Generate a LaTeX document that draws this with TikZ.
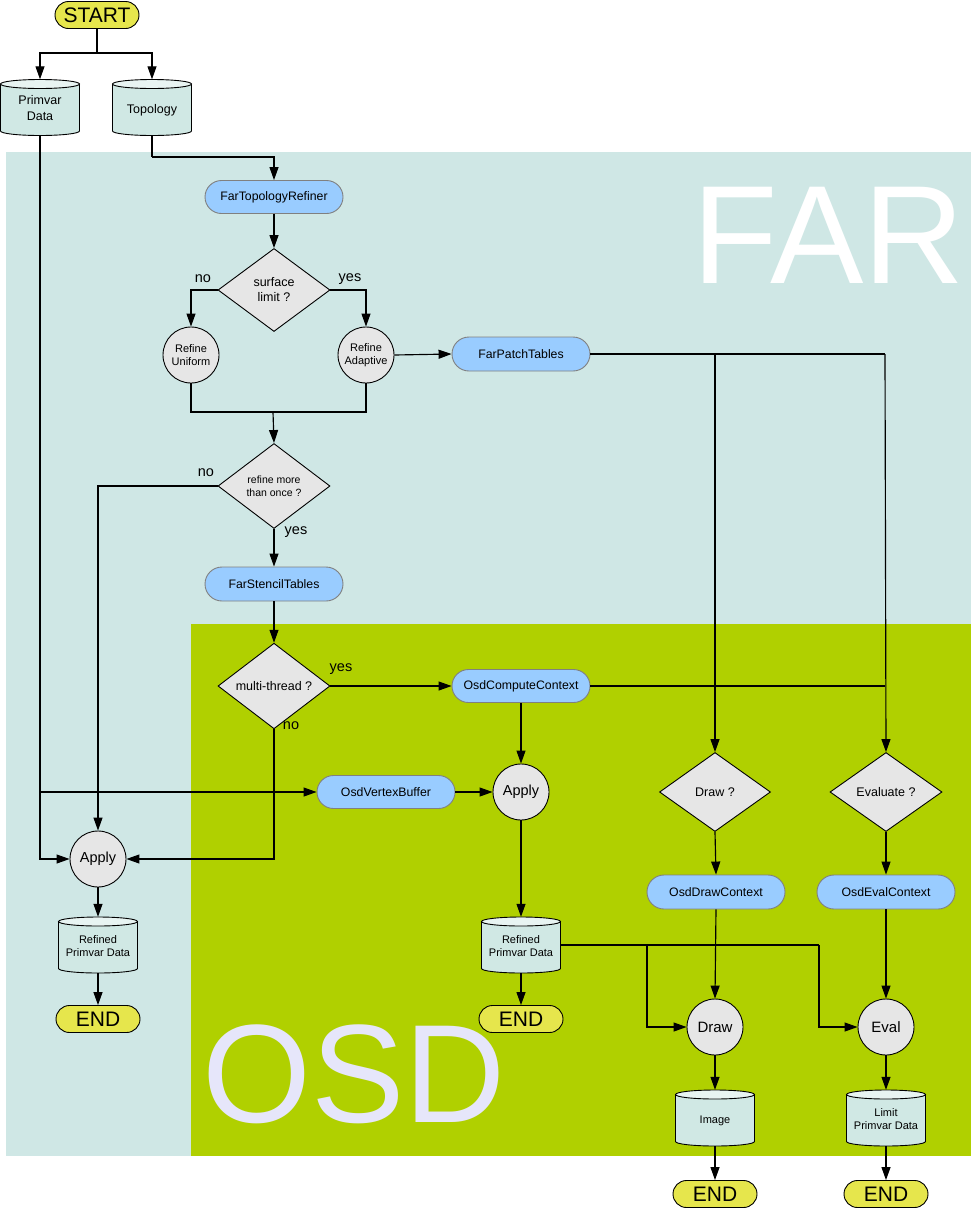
\documentclass[tikz,border=0pt]{standalone}
\usepackage{fontspec}
\setmainfont{Liberation Sans}
\usetikzlibrary{shapes.geometric,shapes.misc,arrows.meta}
\definecolor{farbg}{HTML}{CFE7E5}
\definecolor{osdbg}{HTML}{B0D000}
\definecolor{osdtxt}{HTML}{E6E6FA}
\definecolor{pillblue}{HTML}{99CCFF}
\definecolor{termy}{HTML}{E6E64C}
\definecolor{procg}{HTML}{E6E6E6}
\definecolor{cylf}{HTML}{D0E8E4}
\definecolor{cyltop}{HTML}{E8F4F2}
\tikzset{
  pill/.style={rounded rectangle, draw=gray, fill=pillblue, line width=0.9pt, minimum width=138, minimum height=33, inner sep=0, font=\fontsize{12.3}{14}\selectfont},
  term/.style={rounded rectangle, draw=black, fill=termy, line width=0.9pt, minimum width=84, minimum height=27, inner sep=0, font=\fontsize{21}{24}\selectfont},
  dec/.style={diamond, draw=black, fill=procg, line width=0.9pt, minimum width=112, minimum height=83, inner sep=0, align=center, font=\fontsize{12.5}{15}\selectfont},
  proc/.style={circle, draw=black, fill=procg, line width=0.9pt, minimum size=56, inner sep=0, align=center},
  cyltext/.style={inner sep=0, minimum width=79, minimum height=56, align=center},
  lbl/.style={font=\fontsize{14.5}{16}\selectfont, inner sep=0},
  conn/.style={line width=1.15pt, draw=black},
  arr/.style={conn, -{Triangle[length=13pt,width=9pt]}},
}
\newcommand\mycyl[6]{%
  \pgfmathsetmacro\cL{#2-39.5}\pgfmathsetmacro\cR{#2+39.5}%
  \pgfmathsetmacro\cT{#3-28+4.5}\pgfmathsetmacro\cB{#3+28}%
  \pgfmathsetmacro\cBa{#3+28-4.5}\pgfmathsetmacro\cBb{#3+28-2}%
  \pgfmathsetmacro\cXa{#2-21.8}\pgfmathsetmacro\cXb{#2+21.8}%
  \path[fill=cylf, draw=black, line width=0.9pt] (\cL,\cT) -- (\cL,\cBa) .. controls (\cL,\cBb) and (\cXa,\cB) .. (#2,\cB) .. controls (\cXb,\cB) and (\cR,\cBb) .. (\cR,\cBa) -- (\cR,\cT) -- cycle;
  \path[fill=cyltop, draw=black, line width=0.9pt] (#2,\cT) ellipse [x radius=39.5, y radius=4.5];
  \node[cyltext, font=#5] (#1) at (#2,#3) {\raisebox{-#6pt}[\height][\depth]{\begin{tabular}{@{}c@{}}#4\end{tabular}}};%
}
\begin{document}
\begin{tikzpicture}[x=1pt,y=-1pt]
\useasboundingbox (0,0) rectangle (971,1208);
% backgrounds
\fill[farbg] (6,152) rectangle (971,1156);
\fill[osdbg] (191,624) rectangle (971,1156);
\node[anchor=base west, inner sep=0, text=white, font=\fontsize{140}{144}\selectfont] (fartxt) at (692,283) {FAR};
\node[anchor=base west, inner sep=0, text=osdtxt, font=\fontsize{140}{144}\selectfont] (osdtxt) at (202,1122) {OSD};

% nodes
\node[term] (start) at (97,15) {START};
\mycyl{pd}{40}{107.5}{Primvar\\Data}{\fontsize{12.5}{16}\selectfont}{1.5}
\mycyl{topo}{152}{107.5}{Topology}{\fontsize{12.5}{16}\selectfont}{2.5}
\node[pill] (ftr) at (274,197) {FarTopologyRefiner};
\node[dec] (d1) at (274,290) {surface\\limit ?};
\node[proc, font=\fontsize{11}{13}\selectfont] (ru) at (191,355) {Refine\\Uniform};
\node[proc, font=\fontsize{11}{13}\selectfont] (ra) at (366,355) {Refine\\Adaptive};
\node[pill, minimum height=34] (fpt) at (521,354) {FarPatchTables};
\node[dec, minimum height=85, font=\fontsize{10.5}{13}\selectfont] (d2) at (274,486) {refine more\\than once ?};
\node[pill, minimum height=34] (fst) at (274,584) {FarStencilTables};
\node[dec, minimum height=78] (d3) at (274,686) {multi-thread ?};
\node[pill] (occ) at (521,686) {OsdComputeContext};
\node[pill] (ovb) at (386,792) {OsdVertexBuffer};
\node[proc, font=\fontsize{14.5}{16}\selectfont] (ap1) at (98,859) {Apply};
\node[proc, font=\fontsize{14.5}{16}\selectfont] (ap2) at (521,792) {Apply};
\mycyl{rpd1}{98}{945}{Refined\\Primvar Data}{\fontsize{11}{13}\selectfont}{2.5}
\node[term] (end1) at (98,1019) {END};
\mycyl{rpd2}{521}{945}{Refined\\Primvar Data}{\fontsize{11}{13}\selectfont}{2.5}
\node[term] (end2) at (521,1019) {END};
\node[dec, minimum width=111, minimum height=79] (dd) at (715,792) {Draw ?};
\node[dec, minimum height=79] (de) at (886,792) {Evaluate ?};
\node[pill, minimum height=34] (odc) at (716,892) {OsdDrawContext};
\node[pill, minimum height=34] (oec) at (886,892) {OsdEvalContext};
\node[proc, font=\fontsize{15}{17}\selectfont] (dr) at (715,1027) {Draw};
\node[proc, font=\fontsize{15}{17}\selectfont] (ev) at (886,1027) {Eval};
\mycyl{img}{715}{1118}{Image}{\fontsize{11}{13}\selectfont}{3}
\mycyl{lpd}{886}{1118}{Limit\\Primvar Data}{\fontsize{11}{13}\selectfont}{2}
\node[term] (end3) at (715,1194) {END};
\node[term] (end4) at (886,1194) {END};

% junction coordinates
\coordinate (s1) at (97,53);
\coordinate (t1) at (152,157);
\coordinate (j1) at (273,412);
\coordinate (p1) at (715,354);
\coordinate (p2) at (885,354);
\coordinate (c1) at (885,686);
\coordinate (v1) at (40,792);
\coordinate (r1) at (647,945);
\coordinate (r2) at (819,945);

% connectors
\draw[conn] (start.south) -- (s1);
\draw[arr] (s1) -| (pd.north);
\draw[arr] (s1) -| (topo.north);
\draw[conn] (topo.south) -- (t1);
\draw[arr] (t1) -| (ftr.north);
\draw[arr] (ftr.south) -- (d1.north);
\draw[arr] (d1.west) -| (ru.north);
\draw[arr] (d1.east) -| (ra.north);
\node[lbl] (lno1) at (203,279) {no};
\node[lbl] (lyes1) at (350,279) {yes};
\draw[arr] (ra.east) -- (fpt.west);
\draw[conn] (ru.south) |- (j1);
\draw[conn] (ra.south) |- (j1);
\draw[arr] (j1) -- (d2.north);
\draw[arr] (d2.west) -| (ap1.north);
\node[lbl] (lno2) at (206,473) {no};
\draw[arr] (d2.south) -- (fst.north);
\node[lbl] (lyes2) at (296,532) {yes};
\draw[arr] (fst.south) -- (d3.north);
\draw[arr] (d3.east) -- (occ.west);
\node[lbl] (lyes3) at (341,669) {yes};
\draw[arr] (d3.south) |- (ap1.east);
\node[lbl] (lno3) at (291,726) {no};
\draw[conn] (fpt.east) -- (p2);
\draw[arr] (p1) -- (dd.north);
\draw[arr] (p2) -- (de.north);
\draw[conn] (occ.east) -- (c1);
\draw[arr] (occ.south) -- (ap2.north);
\draw[arr] (pd.south) |- (ap1.west);
\draw[arr] (v1) -- (ovb.west);
\draw[arr] (ovb.east) -- (ap2.west);
\draw[arr] (ap1.south) -- (rpd1.north);
\draw[arr] (rpd1.south) -- (end1.north);
\draw[arr] (ap2.south) -- (rpd2.north);
\draw[arr] (rpd2.south) -- (end2.north);
\draw[arr] (dd.south) -- (odc.north);
\draw[arr] (de.south) -- (oec.north);
\draw[arr] (odc.south) -- (dr.north);
\draw[arr] (oec.south) -- (ev.north);
\draw[conn] (rpd2.east) -- (r2);
\draw[arr] (r1) |- (dr.west);
\draw[arr] (r2) |- (ev.west);
\draw[arr] (dr.south) -- (img.north);
\draw[arr] (ev.south) -- (lpd.north);
\draw[arr] (img.south) -- (end3.north);
\draw[arr] (lpd.south) -- (end4.north);
\end{tikzpicture}
\end{document}
